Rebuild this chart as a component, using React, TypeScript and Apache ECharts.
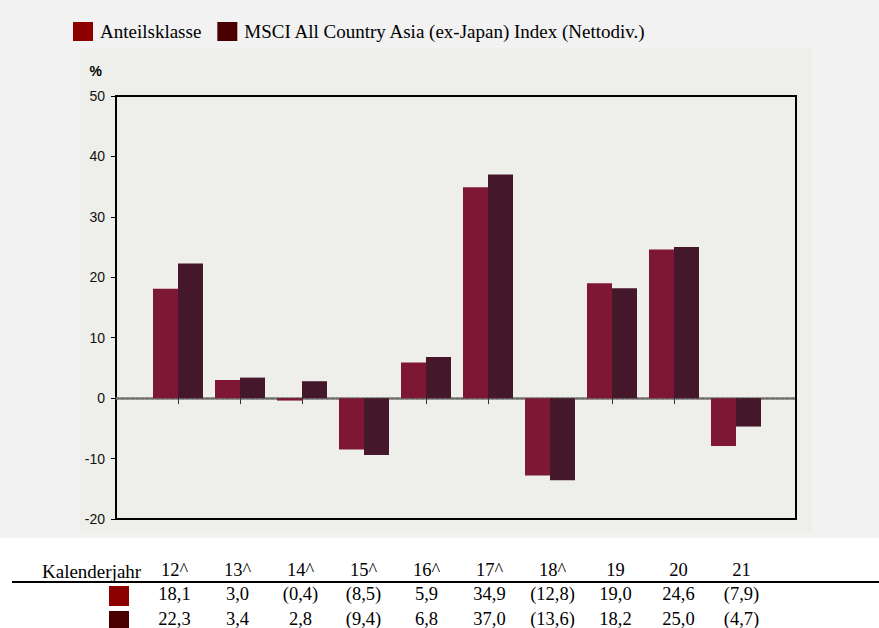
import React, { useEffect, useRef } from "react";
import * as echarts from "echarts";

const categories = ["12^", "13^", "14^", "15^", "16^", "17^", "18^", "19", "20", "21"];
const shareClassName = "Anteilsklasse";
const benchmarkName = "MSCI All Country Asia (ex-Japan) Index (Nettodiv.)";
const shareClass = [18.1, 3.0, -0.4, -8.5, 5.9, 34.9, -12.8, 19.0, 24.6, -7.9];
const benchmark = [22.3, 3.4, 2.8, -9.4, 6.8, 37.0, -13.6, 18.2, 25.0, -4.7];
const yMin = -20;
const yMax = 50;
const yInterval = 10;
const tableTitle = "Kalenderjahr";
const yUnit = "%";

const fmt = (v: number) => {
  const s = Math.abs(v).toFixed(1).replace(".", ",");
  return v < 0 ? `(${s})` : s;
};

const SERIF = "'Liberation Serif', 'Times New Roman', serif";
const SANS = "'Liberation Sans', Arial, sans-serif";

export default function App() {
  const ref = useRef<HTMLDivElement>(null);
  useEffect(() => {
    if (!ref.current) return;
    const chart = echarts.init(ref.current, null, { renderer: "svg" });
    const option: any = {
      animation: false,
      backgroundColor: "#ffffff",
      legend: {
        left: 68,
        top: 17,
        itemWidth: 20,
        itemHeight: 19,
        itemGap: 16,
        icon: "rect",
        textStyle: { fontFamily: SERIF, fontSize: 19, color: "#000", padding: [0, 0, 0, 2] },
        data: [
          { name: shareClassName, itemStyle: { color: "#8c0000" } },
          { name: benchmarkName, itemStyle: { color: "#4a0000" } },
        ],
      },
      graphic: [
        { type: "rect", z: -2, silent: true, shape: { x: 0, y: 0, width: 879, height: 538 }, style: { fill: "#f2f2f2" } },
        { type: "rect", z: -1, silent: true, shape: { x: 80, y: 48, width: 732, height: 485 }, style: { fill: "#eeeeea" } },
        { type: "line", z: 10, shape: { x1: 12, y1: 582, x2: 879, y2: 582 }, style: { stroke: "#000", lineWidth: 2 } },
        { type: "rect", z: 10, shape: { x: 109, y: 586, width: 20, height: 20 }, style: { fill: "#8c0000" } },
        { type: "rect", z: 10, shape: { x: 109, y: 611, width: 20, height: 20 }, style: { fill: "#4a0000" } },
        {
          type: "text", z: 10, x: 42, y: 571,
          style: { text: tableTitle, fill: "#000", font: `19px ${SERIF}`, verticalAlign: "middle", align: "left" },
        },
      ],
      grid: [
        { left: 116, right: 83, top: 96, bottom: 109, show: true, borderColor: "#000", borderWidth: 2, backgroundColor: "transparent" },
        { left: 147, width: 620, top: 96, bottom: 109 },
        { left: 143, width: 630, top: 543, height: 18.5 },
      ],
      xAxis: [
        {
          gridIndex: 0, type: "value", min: 0, max: 1,
          axisLabel: { show: false }, axisTick: { show: false }, splitLine: { show: false },
          axisLine: { show: true, onZero: true, lineStyle: { color: "#6e6e6e", width: 2.5, type: [3, 2] } },
        },
        {
          gridIndex: 1, type: "category", data: categories,
          axisLine: { show: false, onZero: true },
          axisTick: { show: true, alignWithLabel: true, length: 6, lineStyle: { color: "#333", width: 1 } },
          axisLabel: { show: false },
          splitLine: { show: false },
        },
        {
          gridIndex: 2, type: "category", data: categories, position: "bottom",
          axisLine: { show: false }, axisTick: { show: false }, splitLine: { show: false },
          axisLabel: {
            show: true, interval: 0, margin: 0,
            formatter: (val: string, i: number) => `{h|${val}}\n{v|${fmt(shareClass[i])}}\n{v|${fmt(benchmark[i])}}`,
            rich: {
              h: { fontFamily: SERIF, fontSize: 18.5, color: "#000", lineHeight: 24 },
              v: { fontFamily: SERIF, fontSize: 18.5, color: "#000", lineHeight: 24.5 },
            },
          },
        },
      ],
      yAxis: [
        {
          gridIndex: 0, type: "value", min: yMin, max: yMax, interval: yInterval,
          name: yUnit, nameLocation: "end", nameGap: 18,
          nameTextStyle: { fontFamily: SANS, fontSize: 14, fontWeight: "bold", color: "#000", align: "right", padding: [0, 14, 0, 0] },
          axisLine: { show: true, lineStyle: { color: "#000", width: 2 } },
          axisTick: { show: true, length: 5, lineStyle: { color: "#000", width: 1 } },
          axisLabel: { margin: 11, fontFamily: SANS, fontSize: 14, color: "#111" },
          splitLine: { show: false },
        },
        { gridIndex: 1, type: "value", min: yMin, max: yMax, interval: yInterval, show: false, splitLine: { show: false } },
        { gridIndex: 2, type: "value", show: false },
      ],
      series: [
        {
          name: shareClassName, type: "bar", xAxisIndex: 1, yAxisIndex: 1,
          data: shareClass, barWidth: 25, barGap: "0%",
          itemStyle: { color: "#7e1734" }, z: 3,
        },
        {
          name: benchmarkName, type: "bar", xAxisIndex: 1, yAxisIndex: 1,
          data: benchmark, barWidth: 25, barGap: "0%",
          itemStyle: { color: "#45172a" }, z: 3,
        },
      ],
    };
    chart.setOption(option);
    return () => chart.dispose();
  }, []);
  return (
    <div style={{ position: "fixed", left: 0, top: 0, width: 879, height: 628, background: "#fff" }}>
      <div ref={ref} style={{ width: 879, height: 628 }} />
    </div>
  );
}
